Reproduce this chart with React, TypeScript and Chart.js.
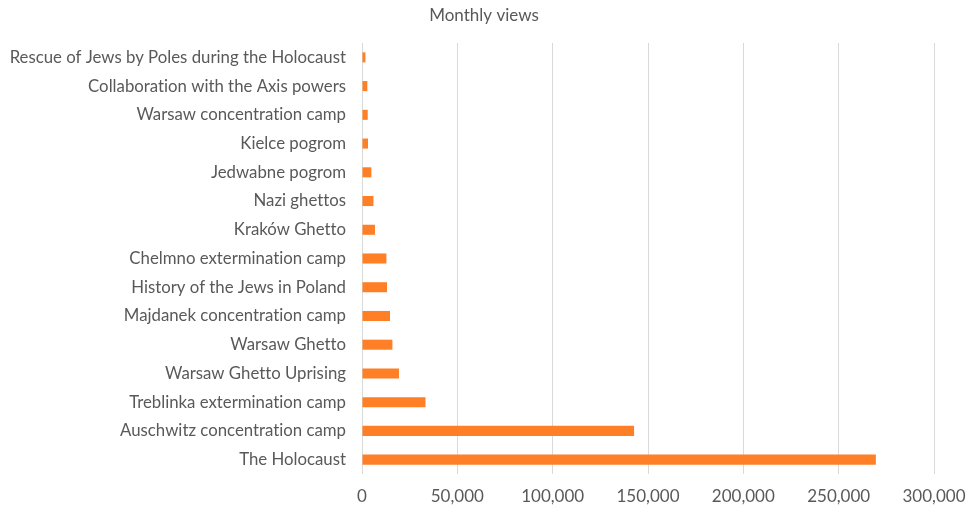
import React, { useEffect, useRef } from "react";
import { Chart, registerables } from "chart.js";

Chart.register(...registerables);

const categories: string[] = [
  "Rescue of Jews by Poles during the Holocaust",
  "Collaboration with the Axis powers",
  "Warsaw concentration camp",
  "Kielce pogrom",
  "Jedwabne pogrom",
  "Nazi ghettos",
  "Kraków Ghetto",
  "Chelmno extermination camp",
  "History of the Jews in Poland",
  "Majdanek concentration camp",
  "Warsaw Ghetto",
  "Warsaw Ghetto Uprising",
  "Treblinka extermination camp",
  "Auschwitz concentration camp",
  "The Holocaust",
];

const monthlyViews: number[] = [
  1800, 2800, 3000, 3150, 4900, 6000, 6800, 12800, 13100, 14700, 15950, 19400,
  33300, 142700, 269500,
];

const xTicks: number[] = [0, 50000, 100000, 150000, 200000, 250000, 300000];

const FONT = "Lato, 'Open Sans', sans-serif";
const TEXT = "#595959";

const noLigatures = {
  id: "noLigatures",
  beforeDraw(chart: any) {
    const ctx = chart.ctx as any;
    try {
      ctx.textRendering = "optimizeSpeed";
    } catch (e) {
      /* ignore */
    }
  },
};

export default function App() {
  const ref = useRef<HTMLCanvasElement | null>(null);

  useEffect(() => {
    if (!ref.current) return;
    const chart = new Chart(ref.current, {
      type: "bar",
      data: {
        labels: categories,
        datasets: [
          {
            label: "Monthly views",
            data: monthlyViews,
            backgroundColor: "#FF7F27",
            borderWidth: 0,
            categoryPercentage: 1,
            barPercentage: 0.35,
          },
        ],
      },
      plugins: [noLigatures],
      options: {
        indexAxis: "y",
        animation: false,
        responsive: false,
        maintainAspectRatio: false,
        layout: { padding: { left: 0, right: 0, top: 0, bottom: 0 } },
        plugins: {
          legend: { display: false },
          tooltip: { enabled: false },
          title: {
            display: true,
            text: "Monthly views",
            color: TEXT,
            font: { family: FONT, size: 17, weight: "normal" },
            padding: { top: 5, bottom: 17.6 },
          },
        },
        scales: {
          x: {
            min: 0,
            max: 300000,
            afterBuildTicks: (axis: any) => {
              axis.ticks = xTicks.map((v) => ({ value: v }));
            },
            afterFit: (axis: any) => {
              axis.height = 34;
              axis.paddingRight = 34;
              axis.paddingLeft = 0;
            },
            grid: { color: "#d9d9d9", lineWidth: 1, drawTicks: false },
            border: { display: false },
            ticks: {
              color: TEXT,
              padding: 12,
              font: { family: FONT, size: 17 },
              callback: (v: any) => Number(v).toLocaleString("en-US"),
            },
          },
          y: {
            afterFit: (axis: any) => {
              axis.width = 362;
            },
            grid: { display: false, drawTicks: false },
            border: { display: false },
            ticks: {
              color: TEXT,
              padding: 16,
              font: { family: FONT, size: 16.8 },
            },
          },
        },
      },
    });
    return () => chart.destroy();
  }, []);

  return (
    <div style={{ position: "absolute", left: 0, top: 0, width: 968, height: 508, background: "#fff" }}>
      <canvas ref={ref} width={968} height={508} style={{ width: 968, height: 508 }} />
    </div>
  );
}
